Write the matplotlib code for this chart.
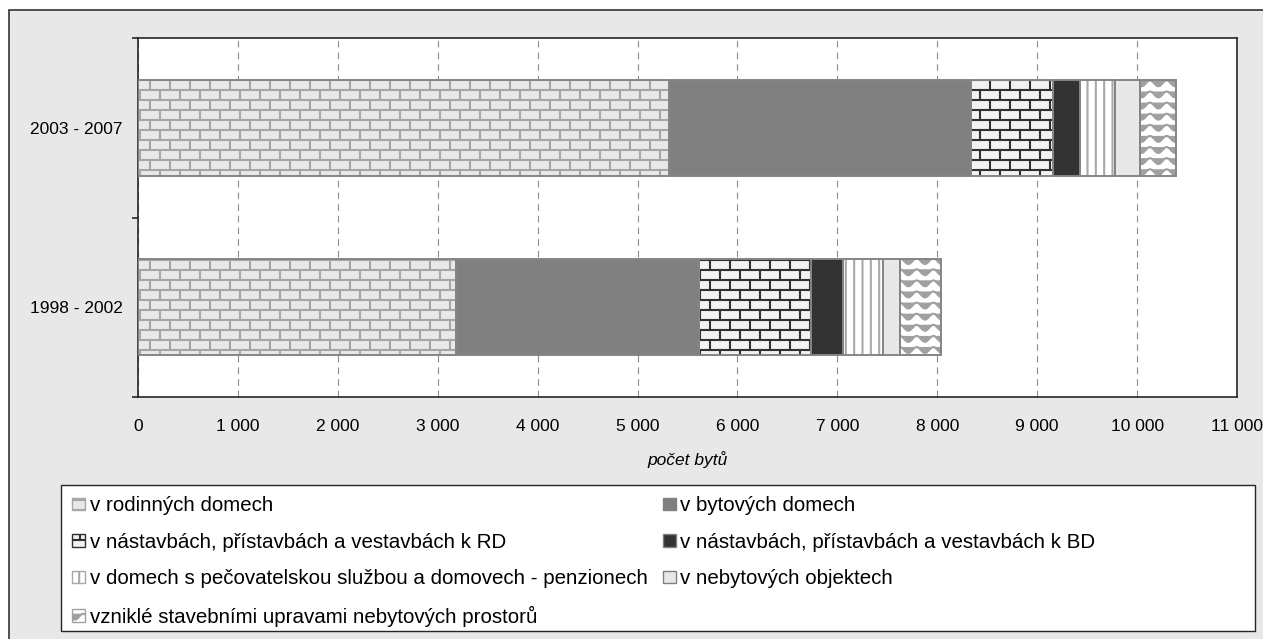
import warnings

import numpy as np
import matplotlib
matplotlib.use("Agg")
import matplotlib.pyplot as plt
from matplotlib import hatch as mhatch
from matplotlib.path import Path
from matplotlib.patches import Rectangle, Patch
from matplotlib.ticker import FuncFormatter, MultipleLocator

warnings.filterwarnings("ignore")

# data (number of dwellings)
periods = ["1998 - 2002", "2003 - 2007"]
series = [
    "v rodinných domech",
    "v bytových domech",
    "v nástavbách, přístavbách a vestavbách k RD",
    "v nástavbách, přístavbách a vestavbách k BD",
    "v domech s pečovatelskou službou a domovech - penzionech",
    "v nebytových objektech",
    "vzniklé stavebními upravami nebytových prostorů",
]
rodinne = [3180, 5315]
bytove = [2435, 3020]
nastavby_rd = [1120, 820]
nastavby_bd = [320, 275]
pecovatelske = [405, 345]
nebytove = [170, 255]
upravy = [405, 355]
values = [rodinne, bytove, nastavby_rd, nastavby_bd, pecovatelske, nebytove, upravy]


# custom hatches: brick ('b') and wave ('w')
class BrickHatch(mhatch.HatchPatternBase):
    rows, cols = 10, 5

    def __init__(self, hatch, density):
        self.on = "b" in hatch
        nv = sum(self.cols + 1 if r % 2 == 0 else self.cols for r in range(self.rows))
        self.num_vertices = 2 * (self.rows + 1 + nv) if self.on else 0

    def set_vertices_and_codes(self, vertices, codes):
        segs = [((0, r / self.rows), (1, r / self.rows)) for r in range(self.rows + 1)]
        for r in range(self.rows):
            off = 0 if r % 2 == 0 else 0.5
            n = self.cols + 1 if off == 0 else self.cols
            for j in range(n):
                x = (j + off) / self.cols
                segs.append(((x, r / self.rows), (x, (r + 1) / self.rows)))
        vertices[:] = np.array(segs, dtype=float).reshape(-1, 2)
        codes[0::2] = Path.MOVETO
        codes[1::2] = Path.LINETO


class WaveHatch(mhatch.HatchPatternBase):
    rows, npts, periods = 9, 61, 6

    def __init__(self, hatch, density):
        self.on = "w" in hatch
        self.num_vertices = self.rows * self.npts if self.on else 0

    def set_vertices_and_codes(self, vertices, codes):
        t = np.linspace(0, 1, self.npts)
        for r in range(self.rows):
            y = (r + 0.5) / self.rows + 0.03 * np.cos(2 * np.pi * self.periods * t)
            sl = slice(r * self.npts, (r + 1) * self.npts)
            vertices[sl, 0] = t
            vertices[sl, 1] = y
            codes[sl] = Path.LINETO
            codes[r * self.npts] = Path.MOVETO


mhatch._hatch_types.append(BrickHatch)
mhatch._hatch_types.append(WaveHatch)

plt.rcParams["font.family"] = ["Liberation Sans", "DejaVu Sans"]
plt.rcParams["hatch.linewidth"] = 1.5

faces = ["#e8e8e8", "#808080", "#f2f2f2", "#333333", "#ffffff", "#e8e8e8", "#ffffff"]
hatch_colors = ["#a6a6a6", "#808080", "#303030", "#333333", "#a8a8a8", "#808080", "#a0a0a0"]
hatches = ["b", None, "b", None, "||", None, "w"]

W, H = 1263, 639
fig = plt.figure(figsize=(W / 100, H / 100), dpi=100, facecolor="white")
fig.patches.append(Rectangle((9 / W, -0.5), 2.0, 1.5 - 10 / H, transform=fig.transFigure,
                             facecolor="#e8e8e8", edgecolor="#333333", linewidth=1.2, zorder=-10))

ax = fig.add_axes([138 / W, 1 - 397 / H, (1237 - 138) / W, (397 - 38) / H])
ax.set_facecolor("white")

y = np.arange(len(periods))
left = np.zeros(len(periods))
for vals, fc, hc, h in zip(values, faces, hatch_colors, hatches):
    ax.barh(y, vals, left=left, height=0.535, color=fc, edgecolor=hc, hatch=h,
            linewidth=0, zorder=2)
    ax.barh(y, vals, left=left, height=0.535, fill=False, edgecolor="#858585",
            linewidth=1.4, zorder=3)
    left += np.array(vals)

ax.set_xlim(0, 11000)
ax.set_ylim(-0.5, 1.5)
ax.xaxis.set_major_locator(MultipleLocator(1000))
ax.xaxis.set_major_formatter(FuncFormatter(lambda v, p: f"{int(v):,}".replace(",", " ")))
ax.tick_params(axis="x", length=0, pad=16, labelsize=12.5, colors="black")
ax.grid(axis="x", color="#8c8c8c", linestyle=(0, (6, 4.5)), linewidth=0.8, zorder=1)
ax.set_axisbelow(True)

ax.set_yticks([-0.5, 0.5, 1.5])
ax.set_yticklabels([])
ax.set_yticks(y, minor=True)
ax.set_yticklabels(periods, minor=True)
ax.tick_params(axis="y", which="major", length=4, width=1.2, color="#262626", direction="out")
ax.tick_params(axis="y", which="minor", length=0, pad=11, labelsize=12.5)

for s in ax.spines.values():
    s.set_color("#262626")
    s.set_linewidth(1.2)

ax.set_xlabel("počet bytů", fontsize=12.5, style="italic", labelpad=12)

# legend box drawn separately so it can span the whole width
fig.patches.append(Rectangle((61 / W, 1 - 631 / H), (1255 - 61) / W, (631 - 485) / H,
                             transform=fig.transFigure, facecolor="white",
                             edgecolor="#262626", linewidth=1.0, zorder=4))
handles = [Patch(facecolor=fc, edgecolor=(hc if h else "#808080"), hatch=h, linewidth=1)
           for fc, hc, h in zip(faces, hatch_colors, hatches)]
# legend is filled row by row in the original
order = [0, 2, 4, 6, 1, 3, 5]
leg = fig.legend([handles[i] for i in order], [series[i] for i in order],
                 loc="upper left", ncol=2, bbox_to_anchor=(61 / W, 1 - 485 / H),
                 borderaxespad=0, fontsize=14.8, frameon=False,
                 handlelength=0.62, handleheight=0.58, handletextpad=0.22,
                 labelspacing=0.85, borderpad=0.55, columnspacing=0.75)

fig.savefig("out.png", dpi=100, facecolor="white")
